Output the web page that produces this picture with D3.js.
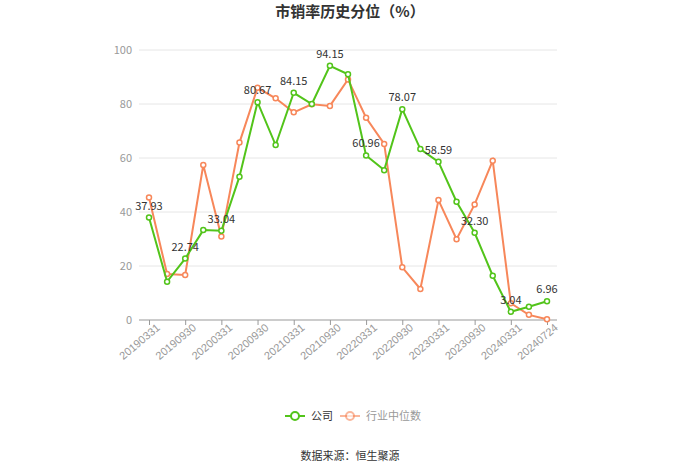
<!DOCTYPE html>
<html><head><meta charset="utf-8">
<script src="https://cdn.jsdelivr.net/npm/d3@7"></script>
<style>body{margin:0;background:#fff;}svg{display:block;font-family:"Microsoft YaHei","Noto Sans CJK SC","Noto Sans",sans-serif;}</style>
</head><body><svg id="c" width="700" height="474"></svg>
<script>
const dates = ["20190331","20190630","20190930","20191231","20200331","20200630","20200930","20201231","20210331","20210630","20210930","20211231","20220331","20220630","20220930","20221231","20230331","20230630","20230930","20231231","20240331","20240630","20240724"];
const company = [37.93,14.2,22.74,33.3,33.04,53.1,80.67,64.8,84.15,80.0,94.15,91.0,60.96,55.5,78.07,63.3,58.59,43.8,32.30,16.4,3.04,4.9,6.96];
const industry = [45.4,17.0,16.7,57.4,30.9,65.7,86.0,82.1,76.9,79.9,79.3,89.1,74.9,65.2,19.5,11.5,44.4,29.9,42.8,59.0,6.2,1.9,0.3];
const labelIdx = [0,2,4,6,8,10,12,14,16,18,20,22];
const yTicks = [0,20,40,60,80,100];
const seriesNames = ["公司","行业中位数"];
const colors = ["#52c41a","#f7875a"];

const svg = d3.select("#c");
const x = d3.scalePoint().domain(dates).range([149,547]);
const y = d3.scaleLinear().domain([0,100]).range([320,50]);

svg.append("text").attr("x",350).attr("y",17).attr("text-anchor","middle")
  .attr("font-size",15).attr("font-weight","bold").attr("fill","#333").text("市销率历史分位（%）");

// grid
svg.append("g").selectAll("line").data(yTicks.filter(d=>d>0)).join("line")
  .attr("x1",139).attr("x2",557).attr("y1",d=>y(d)).attr("y2",d=>y(d))
  .attr("stroke","#e6e6e6").attr("stroke-width",1);
// y axis labels
svg.append("g").selectAll("text").data(yTicks).join("text")
  .attr("x",132).attr("y",d=>y(d)+4).attr("text-anchor","end")
  .attr("font-size",11).attr("fill","#999").text(d=>d);

// x axis
const xa = svg.append("g").attr("transform","translate(0,320)")
  .call(d3.axisBottom(x).tickValues(labelIdx.map(i=>dates[i])).tickSize(5).tickSizeOuter(0));
xa.select(".domain").remove();
xa.insert("line",":first-child").attr("x1",139).attr("x2",557).attr("stroke","#999");
xa.selectAll(".tick line").attr("stroke","#999");
xa.selectAll(".tick text").attr("fill","#999").attr("font-size",11)
  .attr("text-anchor","end").attr("dx","3").attr("dy","6")
  .attr("transform","rotate(-40)");

const line = d3.line().x((d,i)=>x(dates[i])).y(d=>y(d));
[industry, company].forEach((s,k)=>{
  const c = k===0 ? colors[1] : colors[0];
  const g = svg.append("g");
  g.append("path").datum(s).attr("d",line).attr("fill","none").attr("stroke",c).attr("stroke-width",2);
  g.selectAll("circle").data(s).join("circle").attr("cx",(d,i)=>x(dates[i])).attr("cy",d=>y(d))
    .attr("r",2.5).attr("fill","#fff").attr("stroke",c).attr("stroke-width",1.5);
});
// labels
svg.append("g").selectAll("text").data(labelIdx).join("text")
  .attr("x",i=>x(dates[i])).attr("y",i=>y(company[i])-8).attr("text-anchor","middle")
  .attr("font-size",11).attr("fill","#333").text(i=>company[i].toFixed(2));

// legend
const lg = svg.append("g");
const legendX = [285,340];
seriesNames.forEach((n,k)=>{
  const gx = legendX[k], c = colors[k];
  lg.append("line").attr("x1",gx).attr("x2",gx+20).attr("y1",416).attr("y2",416).attr("stroke",c).attr("stroke-width",2)
    .attr("opacity",k===1?0.6:1);
  lg.append("circle").attr("cx",gx+10).attr("cy",416).attr("r",4).attr("fill","#fff").attr("stroke",c).attr("stroke-width",2)
    .attr("opacity",k===1?0.6:1);
  lg.append("text").attr("x",gx+26).attr("y",420).attr("font-size",11).attr("fill",k===0?"#333":"#999").text(n);
});

svg.append("text").attr("x",350).attr("y",460).attr("text-anchor","middle").attr("font-size",11).attr("fill","#333").text("数据来源：恒生聚源");
</script></body></html>
